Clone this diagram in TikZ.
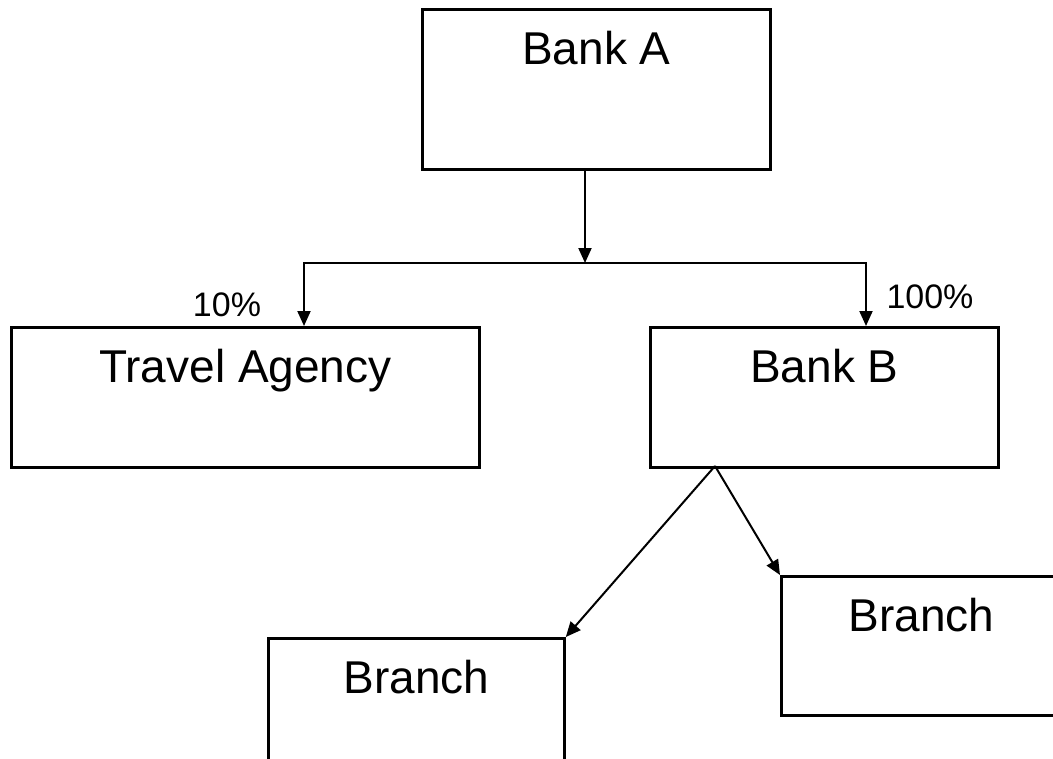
\documentclass[tikz,border=0pt]{standalone}
\usepackage{fontspec}
\setmainfont{Liberation Sans}
\usetikzlibrary{arrows.meta}
\begin{document}
\begin{tikzpicture}[x=0.5bp,y=-0.5bp,
  box/.style 2 args={draw=black,line width=1.4bp,fill=white,anchor=north west,
    minimum width=#1,inner ysep=11bp,text height=16.5bp,text depth=#2,
    font=\fontsize{23bp}{27bp}\selectfont},
  pct/.style={font=\fontsize{17bp}{20bp}\selectfont},
  arr/.style={draw=black,line width=1bp,-{Triangle[length=7.5bp,width=6.5bp]}}]
\useasboundingbox (0,0) rectangle (1053,759);
\node[box={174bp}{41.5bp}] (banka) at (421,8) {Bank A};
\node[box={234bp}{31.5bp}] (travel) at (10,326) {Travel Agency};
\node[box={174bp}{31.5bp}] (bankb) at (649,326) {Bank B};
\node[box={148bp}{40bp}] (branchl) at (267,637) {Branch};
\node[box={140bp}{31bp}] (branchr) at (780,575) {Branch};
\node[pct] (ptravel) at (227,305) {10\%};
\node[pct] (pbankb) at (930,297) {100\%};
\coordinate (split) at (585,263);
\coordinate (lt) at (304,263);
\coordinate (rt) at (866,263);
\coordinate (fork) at (715,466);
\draw[arr] (banka.south -| split) -- (split);
\draw[arr] (split) -- (lt) -- (lt |- travel.north);
\draw[arr] (split) -- (rt) -- (rt |- bankb.north);
\draw[arr] (fork) -- (branchl.north east);
\draw[arr] (fork) -- (branchr.north west);
\end{tikzpicture}
\end{document}
